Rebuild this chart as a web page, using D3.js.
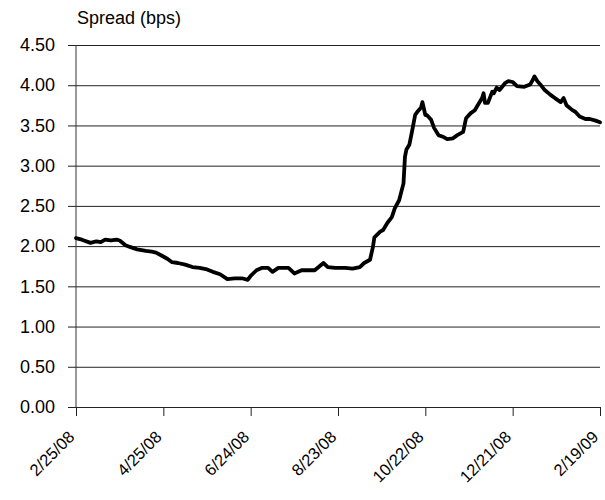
<!DOCTYPE html>
<html>
<head>
<meta charset="utf-8">
<script src="https://cdn.jsdelivr.net/npm/d3@7"></script>
<style>
  body { margin: 0; background: #fff; }
  svg { display: block; }
  text { font-family: "Liberation Sans", Arial, sans-serif; fill: #000; }
</style>
</head>
<body>
<svg id="chart" width="605" height="500"></svg>
<script>
// Credit spread, daily observations (bps)
const dates = [
  "2008-02-25","2008-02-29","2008-03-06","2008-03-10","2008-03-13","2008-03-16","2008-03-20","2008-03-24",
  "2008-03-26","2008-03-30","2008-04-02","2008-04-07","2008-04-13","2008-04-17","2008-04-20","2008-04-24",
  "2008-04-28","2008-05-01","2008-05-05","2008-05-10","2008-05-15","2008-05-20","2008-05-25","2008-05-29",
  "2008-06-03","2008-06-08","2008-06-13","2008-06-18","2008-06-22","2008-06-24","2008-06-28","2008-07-02",
  "2008-07-06","2008-07-09","2008-07-13","2008-07-20","2008-07-24","2008-07-29","2008-08-07","2008-08-13",
  "2008-08-16","2008-08-21","2008-08-28","2008-09-02","2008-09-07","2008-09-10","2008-09-14","2008-09-16",
  "2008-09-17","2008-09-21","2008-09-23","2008-09-26","2008-09-29","2008-10-01","2008-10-04","2008-10-07",
  "2008-10-08","2008-10-09","2008-10-11","2008-10-13","2008-10-15","2008-10-17","2008-10-19","2008-10-20",
  "2008-10-22","2008-10-23","2008-10-26","2008-10-28","2008-10-31","2008-11-03","2008-11-06","2008-11-10",
  "2008-11-13","2008-11-17","2008-11-19","2008-11-22","2008-11-25","2008-11-27","2008-11-30","2008-12-01",
  "2008-12-02","2008-12-04","2008-12-07","2008-12-08","2008-12-10","2008-12-12","2008-12-16","2008-12-18",
  "2008-12-21","2008-12-24","2008-12-29","2009-01-02","2009-01-04","2009-01-05","2009-01-07","2009-01-09",
  "2009-01-12","2009-01-16","2009-01-19","2009-01-23","2009-01-25","2009-01-27","2009-01-31","2009-02-02",
  "2009-02-05","2009-02-09","2009-02-12","2009-02-16","2009-02-19"
];
const spread = [
  2.10,2.08,2.04,2.06,2.05,2.08,2.07,2.08,
  2.07,2.01,1.99,1.96,1.94,1.93,1.92,1.88,
  1.84,1.80,1.79,1.77,1.74,1.73,1.71,1.68,
  1.65,1.59,1.60,1.60,1.58,1.63,1.70,1.73,
  1.73,1.68,1.73,1.73,1.66,1.70,1.70,1.79,
  1.74,1.73,1.73,1.72,1.74,1.79,1.83,1.99,
  2.11,2.18,2.20,2.29,2.36,2.47,2.57,2.78,
  3.11,3.20,3.26,3.44,3.63,3.68,3.72,3.79,
  3.63,3.63,3.57,3.47,3.38,3.36,3.33,3.34,
  3.38,3.42,3.59,3.65,3.69,3.75,3.84,3.90,
  3.78,3.78,3.92,3.90,3.97,3.94,4.03,4.05,
  4.04,3.99,3.98,4.01,4.07,4.11,4.05,4.01,
  3.94,3.88,3.84,3.79,3.84,3.75,3.69,3.67,
  3.61,3.58,3.58,3.56,3.54
];
const xTickLabels = ["2/25/08","4/25/08","6/24/08","8/23/08","10/22/08","12/21/08","2/19/09"];
const yTicks = [0, 0.5, 1, 1.5, 2, 2.5, 3, 3.5, 4, 4.5];
const yTitle = "Spread (bps)";

const parse = d3.utcParse("%Y-%m-%d");
const fmtIn = d3.utcParse("%m/%d/%y");
const data = dates.map((d, i) => ({ date: parse(d), value: spread[i] }));
const tickDates = xTickLabels.map(s => fmtIn(s));

const svg = d3.select("#chart");
const plot = { left: 76, right: 600, top: 45, bottom: 407 };

const x = d3.scaleUtc()
  .domain([tickDates[0], tickDates[tickDates.length - 1]])
  .range([plot.left, plot.right]);
const y = d3.scaleLinear().domain([0, 4.5]).range([plot.bottom, plot.top]);

// Horizontal gridlines with short ticks left of the axis
const yAxis = d3.axisLeft(y)
  .tickValues(yTicks)
  .tickFormat(d3.format(".2f"))
  .tickSize(-(plot.right - plot.left))
  .tickSizeOuter(0)
  .tickPadding(21);

const gy = svg.append("g")
  .attr("transform", `translate(${plot.left},0)`)
  .call(yAxis);
gy.select(".domain").remove();
gy.selectAll(".tick line")
  .attr("x1", -8)
  .attr("stroke", "#222")
  .attr("stroke-width", 1);
gy.selectAll(".tick text")
  .attr("font-size", 18)
  .attr("font-family", "Liberation Sans, Arial, sans-serif")
  .attr("fill", "#000");

// Vertical axis line
svg.append("line")
  .attr("x1", plot.left).attr("x2", plot.left)
  .attr("y1", plot.top).attr("y2", plot.bottom)
  .attr("stroke", "#333").attr("stroke-width", 1);

// Date axis
const xAxis = d3.axisBottom(x)
  .tickValues(tickDates)
  .tickFormat((d, i) => xTickLabels[i])
  .tickSize(9)
  .tickSizeOuter(0);

const gx = svg.append("g")
  .attr("transform", `translate(0,${plot.bottom})`)
  .call(xAxis);
gx.select(".domain").attr("stroke", "#222");
gx.selectAll(".tick line").attr("stroke", "#222");
gx.selectAll(".tick text")
  .attr("font-size", 16.5)
  .attr("font-family", "Liberation Sans, Arial, sans-serif")
  .attr("fill", "#000")
  .attr("text-anchor", "end")
  .attr("dy", null)
  .attr("y", 0)
  .attr("transform", "translate(-1,31) rotate(-45)");

// Y title
svg.append("text")
  .attr("x", 77)
  .attr("y", 24)
  .attr("font-size", 18)
  .text(yTitle);

// Spread line
const line = d3.line()
  .x(d => x(d.date))
  .y(d => y(d.value));

svg.append("path")
  .datum(data)
  .attr("fill", "none")
  .attr("stroke", "#000")
  .attr("stroke-width", 3.8)
  .attr("stroke-linejoin", "round")
  .attr("stroke-linecap", "round")
  .attr("d", line);
</script>
</body>
</html>
